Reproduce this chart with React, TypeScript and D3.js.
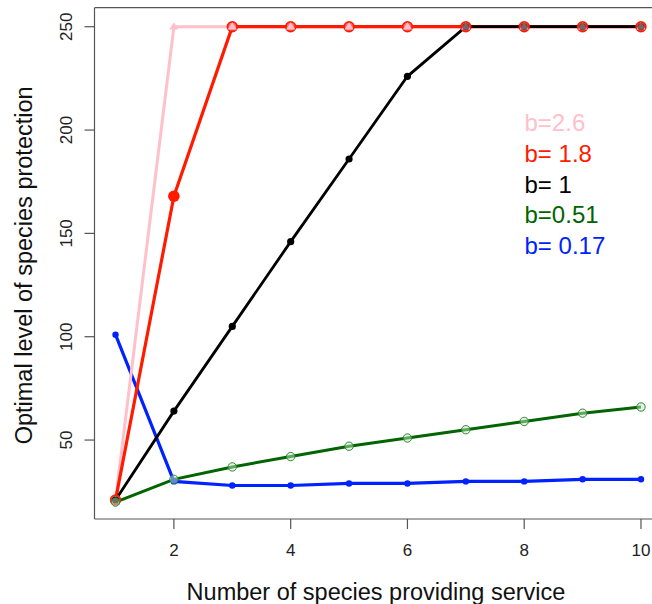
import React from "react";
import * as d3 from "d3";

const xValues = [1, 2, 3, 4, 5, 6, 7, 8, 9, 10];
const pinkValues = [21, 250, 250, 250, 250, 250, 250, 250, 250, 250];
const redValues = [21, 168, 250, 250, 250, 250, 250, 250, 250, 250];
const blackValues = [21, 64, 105, 146, 186, 226, 250, 250, 250, 250];
const greenValues = [20, 31, 37, 42, 47, 51, 55, 59, 63, 66];
const blueValues = [101, 30, 28, 28, 29, 29, 30, 30, 31, 31];
const xTicks = [2, 4, 6, 8, 10];
const yTicks = [50, 100, 150, 200, 250];
const legendLabels = ["b=2.6", "b= 1.8", "b= 1", "b=0.51", "b= 0.17"];
const legendColors = ["pink", "#ff1a00", "black", "#006400", "#0022ff"];

const W = 652;
const H = 604;
const L = 94.5;
const T = 7.7;
const B = 519;
const R = 662;

export default function App() {
  const x = d3.scaleLinear().domain([0.64, 10.36]).range([L, R]);
  const y = d3.scaleLinear().domain([11.8, 259.2]).range([B, T]);
  const line = d3
    .line<number>()
    .x((_, i) => x(xValues[i]))
    .y((d) => y(d));

  const font = "'Liberation Sans', Arial, Helvetica, sans-serif";
  const tri = (cx: number, cy: number, s: number) =>
    `M${cx},${cy - s * 0.95} L${cx + s},${cy + s * 0.6} L${cx - s},${cy + s * 0.6} Z`;

  return (
    <svg
      width={W}
      height={H}
      style={{ position: "absolute", left: 0, top: 0, background: "white" }}
      fontFamily={font}
    >
      <rect x={0} y={0} width={W} height={H} fill="white" />
      {/* lines */}
      <path d={line(blueValues) || ""} fill="none" stroke="#0022ff" strokeWidth={3.2} />
      <path d={line(pinkValues) || ""} fill="none" stroke="pink" strokeWidth={3} />
      <path d={line(redValues) || ""} fill="none" stroke="#ff1a00" strokeWidth={3.2} />
      <path d={line(blackValues) || ""} fill="none" stroke="black" strokeWidth={2.8} />
      <path d={line(greenValues) || ""} fill="none" stroke="#006400" strokeWidth={3} />

      {/* blue markers */}
      {blueValues.map((v, i) => (
        <circle key={"b" + i} cx={x(xValues[i])} cy={y(v)} r={3.2} fill="#0022ff" />
      ))}
      {/* red markers */}
      {redValues.map((v, i) => {
        const filled = v !== 250 && v !== 21;
        return (
          <circle
            key={"r" + i}
            cx={x(xValues[i])}
            cy={y(v)}
            r={filled ? 5.8 : 4.8}
            fill={filled ? "#ff1a00" : "#f47070"}
            stroke="#ff1a00"
            strokeWidth={filled ? 0 : 1.8}
          />
        );
      })}
      {/* pink markers */}
      {pinkValues.map((v, i) => (
        <path key={"p" + i} d={tri(x(xValues[i]), y(v), 4.6)} fill="pink" />
      ))}
      {/* black markers */}
      {blackValues.map((v, i) => (
        <circle key={"k" + i} cx={x(xValues[i])} cy={y(v)} r={3.6} fill="black" opacity={v === 250 ? 0.5 : 1} />
      ))}
      {/* green markers */}
      {greenValues.map((v, i) => (
        <circle
          key={"g" + i}
          cx={x(xValues[i])}
          cy={y(v)}
          r={4.2}
          fill="rgba(200,230,200,0.5)"
          stroke="#2e8b2e"
          strokeWidth={1}
        />
      ))}

      {/* box */}
      <line x1={L} y1={T} x2={W} y2={T} stroke="#555" strokeWidth={1.2} />
      <line x1={L} y1={T} x2={L} y2={B} stroke="#555" strokeWidth={1.2} />
      <line x1={L} y1={B} x2={W} y2={B} stroke="#555" strokeWidth={1.2} />

      {/* x ticks */}
      {xTicks.map((t) => (
        <g key={"xt" + t}>
          <line x1={x(t)} x2={x(t)} y1={B} y2={B + 10} stroke="#555" strokeWidth={1.2} />
          <text x={x(t)} y={556} textAnchor="middle" fontSize={17} fill="#222">
            {t}
          </text>
        </g>
      ))}
      {/* y ticks */}
      {yTicks.map((t) => (
        <g key={"yt" + t}>
          <line x1={L - 10} x2={L} y1={y(t)} y2={y(t)} stroke="#555" strokeWidth={1.2} />
          <text
            transform={`translate(${72},${y(t)}) rotate(-90)`}
            textAnchor="middle"
            fontSize={17}
            fill="#222"
          >
            {t}
          </text>
        </g>
      ))}

      {/* axis titles */}
      <text x={376} y={600} textAnchor="middle" fontSize={23.5} fill="#111">
        Number of species providing service
      </text>
      <text
        transform={`translate(32,${(T + B) / 2 + 2}) rotate(-90)`}
        textAnchor="middle"
        fontSize={23.5}
        fill="#111"
      >
        Optimal level of species protection
      </text>

      {/* legend */}
      {legendLabels.map((lab, i) => (
        <text key={lab} x={524.5} y={131 + i * 30.8} fontSize={24} fill={legendColors[i]}>
          {lab}
        </text>
      ))}
    </svg>
  );
}
